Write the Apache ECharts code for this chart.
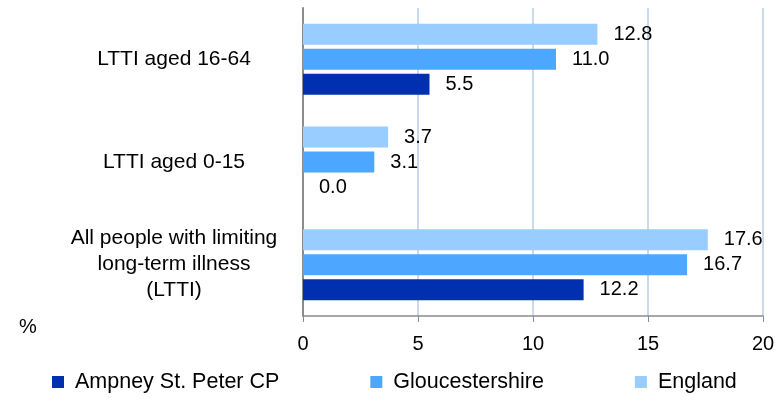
<!DOCTYPE html>
<html>
<head>
<meta charset="utf-8">
<script src="https://cdn.jsdelivr.net/npm/echarts@6/dist/echarts.min.js"></script>
<style>html,body{margin:0;padding:0;background:#fff}#c{width:779px;height:401px}</style>
</head>
<body>
<div id="c"></div>
<script>
var categories = ['All people with limiting\nlong-term illness\n(LTTI)', 'LTTI aged 0-15', 'LTTI aged 16-64'];
var seriesNames = ['Ampney St. Peter CP', 'Gloucestershire', 'England'];
var ampney = [12.2, 0.0, 5.5];
var gloucestershire = [16.7, 3.1, 11.0];
var england = [17.6, 3.7, 12.8];
var colors = ['#0030b0', '#4da6ff', '#99ccff'];
var xTicks = [0, 5, 10, 15, 20];

var font = 'Liberation Sans, Arial, sans-serif';
var chart = echarts.init(document.getElementById('c'));
function mk(name, data, color) {
  return {
    name: name, type: 'bar', data: data,
    itemStyle: { color: color },
    barWidth: 21,
    barGap: '19%',
    barCategoryGap: '31%',
    label: { show: true, position: 'right', distance: 16, color: '#000', fontSize: 20, fontFamily: font,
      formatter: function (p) { return p.value.toFixed(1); } }
  };
}
chart.setOption({
  animation: false,
  grid: { left: 303, right: 16, top: 8, bottom: 85, containLabel: false },
  xAxis: {
    type: 'value', min: xTicks[0], max: xTicks[xTicks.length - 1], interval: 5,
    axisLine: { show: true, lineStyle: { color: '#8c8c8c', width: 1.5 } },
    axisTick: { show: true, length: 6, lineStyle: { color: '#8c8c8c' } },
    axisLabel: { color: '#000', fontSize: 20, fontFamily: font, margin: 18 },
    splitLine: { show: true, lineStyle: { color: '#b8cce4', width: 1.5 } }
  },
  yAxis: {
    type: 'category', data: categories,
    axisLine: { show: true, lineStyle: { color: '#8c8c8c', width: 2 } },
    axisTick: { show: false },
    axisLabel: { color: '#000', fontSize: 21, fontFamily: font, align: 'center', margin: 129, lineHeight: 26 }
  },
  legend: {
    bottom: 3, left: 47, itemWidth: 12, itemHeight: 12, itemGap: 91, icon: 'rect',
    textStyle: { color: '#000', fontSize: 21.5, fontFamily: font, padding: [0, 0, 0, 6] },
    data: seriesNames
  },
  graphic: [{ type: 'text', left: 19, top: 317, style: { text: '%', fontSize: 20, fontFamily: font, fill: '#000' } }],
  series: [mk(seriesNames[2], england, colors[2]), mk(seriesNames[1], gloucestershire, colors[1]), mk(seriesNames[0], ampney, colors[0])]
});
</script>
</body>
</html>
